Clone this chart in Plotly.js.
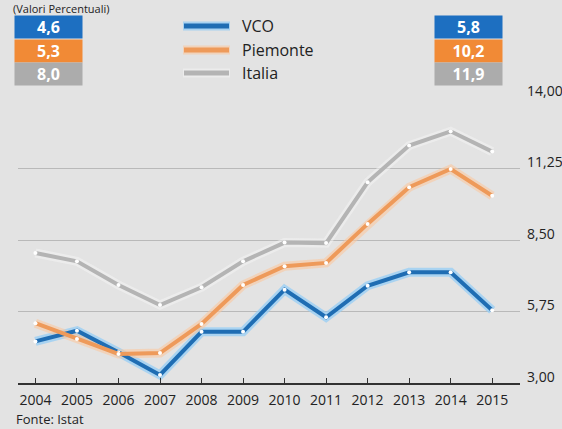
<!DOCTYPE html>
<html>
<head>
<meta charset="utf-8">
<script src="https://cdn.plot.ly/plotly-3.0.1.min.js"></script>
<style>html,body{margin:0;padding:0;background:#e3e3e3;}#chart{width:562px;height:429px;}</style>
</head>
<body>
<div id="chart"></div>
<script>
// ---- data ----
const years = [2004, 2005, 2006, 2007, 2008, 2009, 2010, 2011, 2012, 2013, 2014, 2015];
const seriesNames = ['VCO', 'Piemonte', 'Italia'];
const vco      = [4.6, 5.01, 4.18, 3.31, 4.97, 4.97, 6.59, 5.53, 6.74, 7.26, 7.26, 5.8];
const piemonte = [5.3, 4.69, 4.12, 4.15, 5.27, 6.77, 7.49, 7.62, 9.12, 10.53, 11.23, 10.2];
const italia   = [8.0, 7.68, 6.77, 6.0, 6.68, 7.68, 8.4, 8.38, 10.72, 12.13, 12.68, 11.9];
const yTicks = [3, 5.75, 8.5, 11.25, 14];
const yTickText = ['3,00', '5,75', '8,50', '11,25', '14,00'];
const titleText = '(Valori Percentuali)';
const sourceText = 'Fonte: Istat';

// ---- styling ----
const colors = ['#1f6db3', '#ee9a5a', '#b4b4b4'];
const glow = ['rgba(150,205,245,0.75)', 'rgba(250,200,160,0.6)', 'rgba(245,245,245,0.5)'];
const boxColors = ['#1d6fc1', '#f18a36', '#acacac'];
const font = 'Open Sans, DejaVu Sans, sans-serif';
const W = 562, H = 429;
const M = {l: 18, r: 42, t: 97, b: 46};
const pw = W - M.l - M.r, ph = H - M.t - M.b;
const px = x => (x - M.l) / pw;
const py = y => (H - M.b - y) / ph;
const fmt = v => v.toFixed(1).replace('.', ',');

const all = [vco, piemonte, italia];
const traces = [];
all.forEach((s, i) => {
  traces.push({x: years, y: s, type: 'scatter', mode: 'lines', showlegend: false, hoverinfo: 'skip',
    line: {color: glow[i], width: 9}});
});
all.forEach((s, i) => {
  traces.push({x: years, y: s, type: 'scatter', mode: 'lines+markers', name: seriesNames[i], showlegend: false,
    line: {color: colors[i], width: 4},
    marker: {color: '#ffffff', size: 4, line: {width: 0}}});
});

const annotations = [];
const shapes = [];
annotations.push({xref: 'paper', yref: 'paper', x: px(12), y: py(0), xanchor: 'left', yanchor: 'top',
  text: titleText, showarrow: false, borderpad: 0, font: {family: font, size: 11, color: '#222'}});
annotations.push({xref: 'paper', yref: 'paper', x: px(15), y: py(429), xanchor: 'left', yanchor: 'bottom',
  text: sourceText, showarrow: false, borderpad: 0, font: {family: font, size: 13, color: '#222'}});
const boxY = [27, 50.5, 74];
all.forEach((s, i) => {
  [[48.5, s[0]], [468, s[s.length - 1]]].forEach(([cx, v]) => {
    annotations.push({xref: 'paper', yref: 'paper', x: px(cx), y: py(boxY[i]), xanchor: 'center', yanchor: 'middle',
      text: '<b>' + fmt(v) + '</b>', showarrow: false, width: 63, height: 18, bgcolor: boxColors[i],
      borderpad: 2, font: {family: font, size: 16, color: '#ffffff'}});
  });
});
// legend (manual)
const legY = [26, 50, 73];
seriesNames.forEach((n, i) => {
  shapes.push({type: 'line', xref: 'paper', yref: 'paper', x0: px(183), x1: px(230), y0: py(legY[i]), y1: py(legY[i]),
    line: {color: glow[i], width: 9}});
  shapes.push({type: 'line', xref: 'paper', yref: 'paper', x0: px(184), x1: px(229), y0: py(legY[i]), y1: py(legY[i]),
    line: {color: colors[i], width: 5}});
  annotations.push({xref: 'paper', yref: 'paper', x: px(240), y: py(legY[i]), xanchor: 'left', yanchor: 'middle',
    text: n, showarrow: false, font: {family: font, size: 16, color: '#222'}});
});

const layout = {
  width: W, height: H, margin: M,
  paper_bgcolor: '#e3e3e3', plot_bgcolor: '#e3e3e3',
  showlegend: false,
  xaxis: {range: [2003.58, 2015.67], tickvals: years, ticktext: years.map(String),
    ticks: 'inside', ticklen: 5, tickcolor: '#333', tickwidth: 1,
    showline: true, linecolor: '#333', linewidth: 1.5, showgrid: false, zeroline: false,
    ticklabelstandoff: 4,
    tickfont: {family: font, size: 14, color: '#222'}, fixedrange: true},
  yaxis: {range: [3, 14], side: 'right', tickvals: yTicks, ticktext: yTickText,
    showgrid: true, gridcolor: '#b9b9b9', gridwidth: 1, zeroline: false, showline: false,
    ticks: '', ticklabelshift: -6, ticklabelstandoff: 6,
    tickfont: {family: font, size: 14, color: '#222'}, fixedrange: true},
  shapes: shapes,
  annotations: annotations
};
Plotly.newPlot('chart', traces, layout, {staticPlot: true});
</script>
</body>
</html>
